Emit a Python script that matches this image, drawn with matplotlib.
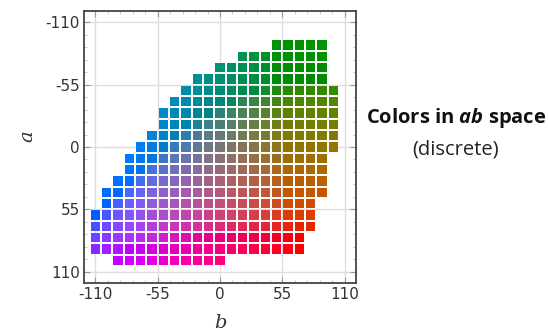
import numpy as np
import matplotlib
matplotlib.use("Agg")
import matplotlib.pyplot as plt
from matplotlib.ticker import MultipleLocator

# Quantized ab gamut (grid size 10, 313 in-gamut bins): for each row of a,
# the first and last in-gamut b bin centre.
a_rows  = [-90, -80, -70, -60, -50, -40, -30, -20, -10,   0,  10,  20,  30,   40,   50,   60,   70,   80,   90, 100]
b_first = [ 50,  20,   0, -20, -30, -40, -50, -50, -60, -70, -80, -80, -90, -100, -100, -110, -110, -110, -110, -90]
b_last  = [ 90,  90,  90,  90, 100, 100, 100, 100, 100, 100,  90,  90,  90,   90,   80,   80,   80,   70,   70,   0]
grid_step = 10
L_value = 50

ticks = [-110, -55, 0, 55, 110]
tick_labels = ["-110", "-55", "0", "55", "110"]

# expand rows into bin centres
a_pts, b_pts = [], []
for a, b0, b1 in zip(a_rows, b_first, b_last):
    for b in range(b0, b1 + 1, grid_step):
        a_pts.append(a)
        b_pts.append(b)
a_pts = np.array(a_pts, dtype=float)
b_pts = np.array(b_pts, dtype=float)


def lab_to_srgb(L, a, b):
    fy = (L + 16.0) / 116.0
    fx = fy + a / 500.0
    fz = fy - b / 200.0
    d = 6.0 / 29.0

    def finv(t):
        return np.where(t > d, t ** 3, 3 * d * d * (t - 4.0 / 29.0))

    X = 0.95047 * finv(fx)
    Y = 1.00000 * finv(np.full_like(fx, fy))
    Z = 1.08883 * finv(fz)
    r = 3.2406 * X - 1.5372 * Y - 0.4986 * Z
    g = -0.9689 * X + 1.8758 * Y + 0.0415 * Z
    bb = 0.0557 * X - 0.2040 * Y + 1.0570 * Z
    rgb = np.stack([r, g, bb], axis=1)
    rgb = np.clip(rgb, 0, 1)
    rgb = np.where(rgb <= 0.0031308, 12.92 * rgb,
                   1.055 * np.power(rgb, 1 / 2.4) - 0.055)
    return np.clip(rgb, 0, 1)


colors = lab_to_srgb(L_value, a_pts, b_pts)

plt.rcParams["axes.unicode_minus"] = False
plt.rcParams["mathtext.fontset"] = "custom"
plt.rcParams["mathtext.it"] = "Open Sans:italic:bold"

fig = plt.figure(figsize=(5.48, 3.31), dpi=100)
ax = fig.add_axes([84 / 548, 48 / 331, 272 / 548, 272 / 331])

ax.set_xlim(-120, 120)
ax.set_ylim(120, -120)

# square size: bin width in pixels minus a small white gap
px_per_unit = 272 / 240
side_px = grid_step * px_per_unit - 2.2
side_pt = side_px * 72 / fig.dpi
ax.scatter(b_pts, a_pts, c=colors, marker="s", s=side_pt ** 2,
           linewidths=0, zorder=3)

ax.set_xticks(ticks)
ax.set_xticklabels(tick_labels)
ax.set_yticks(ticks)
ax.set_yticklabels(tick_labels)
ax.xaxis.set_minor_locator(MultipleLocator(11))
ax.yaxis.set_minor_locator(MultipleLocator(11))
ax.grid(True, which="major", color="#dedede", linewidth=1.0, zorder=0)
ax.set_axisbelow(True)

ax.tick_params(which="major", direction="in", length=4, width=0.8,
               color="#999999", labelsize=11, labelcolor="#333333",
               top=True, right=True, pad=3)
ax.tick_params(which="minor", direction="in", length=2, width=0.6,
               color="#bbbbbb", top=True, right=True)
for sp in ax.spines.values():
    sp.set_color("#444444")
    sp.set_linewidth(1.3)

ax.set_xlabel("b", family="DejaVu Serif", style="italic", fontsize=14,
              color="#333333")
ax.set_ylabel("a", family="DejaVu Serif", style="italic", fontsize=14,
              color="#333333")
ax.xaxis.set_label_coords(0.5, -0.115)
ax.yaxis.set_label_coords(-0.175, 0.54)

fig.text(456 / 548, 1 - 118 / 331, r"Colors in $\mathit{ab}$ space",
         ha="center", va="center", family="Open Sans", weight="bold",
         fontsize=14.5, color="#111111")
fig.text(456 / 548, 1 - 150 / 331, "(discrete)",
         ha="center", va="center", family="Open Sans", fontsize=14.5,
         color="#222222")

fig.savefig("out.png", dpi=100)
